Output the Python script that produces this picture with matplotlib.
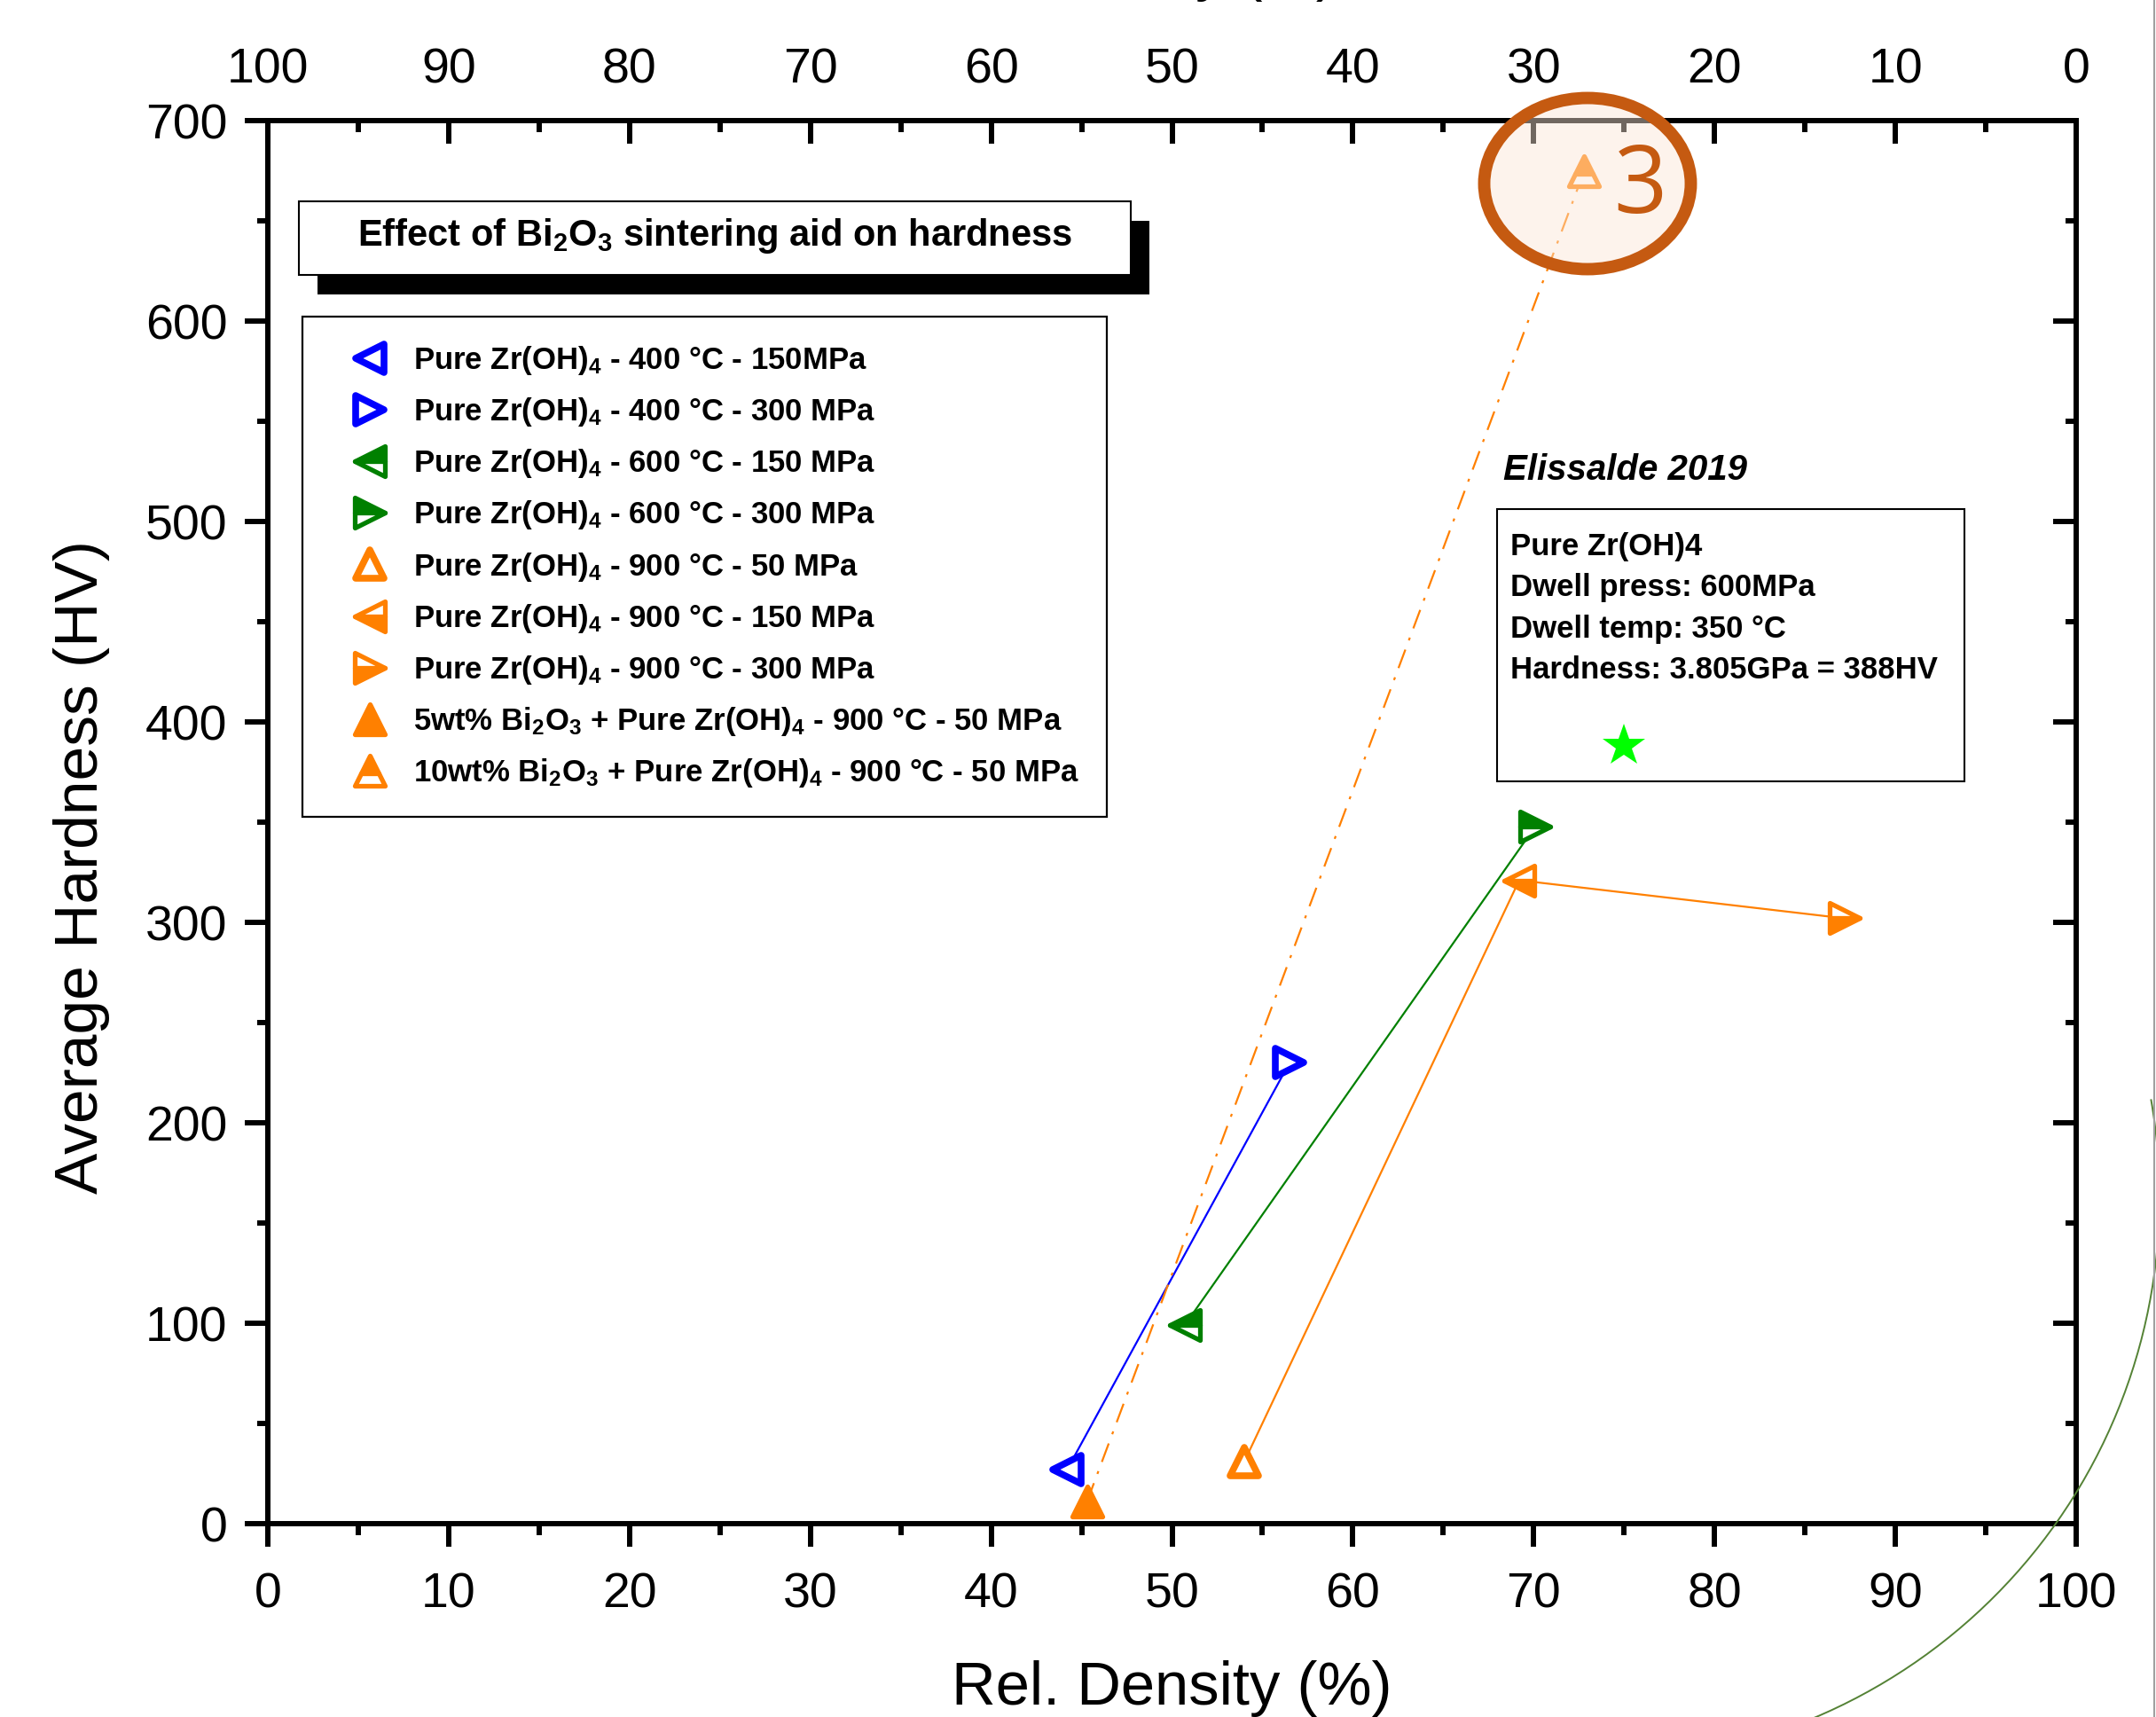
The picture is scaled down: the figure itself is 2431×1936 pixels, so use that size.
import numpy as np
import matplotlib.pyplot as plt
from matplotlib.lines import Line2D
from matplotlib.markers import MarkerStyle
from matplotlib.patches import Rectangle, Ellipse, Arc

plt.rcParams['font.family'] = ['Liberation Sans', 'DejaVu Sans']
plt.rcParams['mathtext.default'] = 'regular'

# Rel. density (%) vs average hardness (HV)
blue_density = [44.2, 56.5]          # 400 °C: 150 MPa, 300 MPa
blue_hardness = [27, 230]
green_density = [50.7, 70.1]         # 600 °C: 150 MPa, 300 MPa
green_hardness = [99, 348]
orange_density = [54.0, 69.2, 87.2]  # 900 °C: 50, 150, 300 MPa
orange_hardness = [31, 321, 302]
bi2o3_density = [45.3, 72.8]         # 5wt%, 10wt% Bi2O3
bi2o3_hardness = [11, 675]
elissalde_density = [75.0]
elissalde_hardness = [388]

labels = [
    'Pure Zr(OH)$_4$ - 400 °C - 150MPa',
    'Pure Zr(OH)$_4$ - 400 °C - 300 MPa',
    'Pure Zr(OH)$_4$ - 600 °C - 150 MPa',
    'Pure Zr(OH)$_4$ - 600 °C - 300 MPa',
    'Pure Zr(OH)$_4$ - 900 °C - 50 MPa',
    'Pure Zr(OH)$_4$ - 900 °C - 150 MPa',
    'Pure Zr(OH)$_4$ - 900 °C - 300 MPa',
    '5wt% Bi$_2$O$_3$ + Pure Zr(OH)$_4$ - 900 °C - 50 MPa',
    '10wt% Bi$_2$O$_3$ + Pure Zr(OH)$_4$ - 900 °C - 50 MPa',
]
info_lines = ['Pure Zr(OH)4', 'Dwell press: 600MPa', 'Dwell temp: 350 °C',
              'Hardness: 3.805GPa = 388HV']

blue, green, orange = '#0000ff', '#008000', '#ff8000'

fig = plt.figure(figsize=(24.31, 19.36), dpi=100)
ax = fig.add_axes([0.12423, 0.11260, 0.83875, 0.81715])
ax.set_xlim(0, 100)
ax.set_ylim(0, 700)

# connecting lines
ax.plot(blue_density, blue_hardness, color=blue, lw=1.6, zorder=2)
ax.plot(green_density, green_hardness, color=green, lw=1.6, zorder=2)
ax.plot(orange_density, orange_hardness, color=orange, lw=1.6, zorder=2)
ax.plot(bi2o3_density, bi2o3_hardness, color=orange, lw=1.6,
        ls=(0, (10, 5, 1.5, 5)), zorder=2)


def draw_point(x, y, marker, color, fill, label):
    kw = dict(ms=25, mew=3.8, mec=color, ls='none', zorder=4)
    if fill == 'open':
        kw.update(mfc='white', mew=5.5, ms=23)
        fs = 'full'
    elif fill == 'full':
        kw.update(mfc=color)
        fs = 'full'
    else:
        kw.update(mfc=color, markerfacecoloralt='white')
        fs = fill
    m = MarkerStyle(marker, fillstyle=fs, joinstyle='round')
    return ax.plot([x], [y], marker=m, label=label, **kw)[0]


handles = [
    draw_point(blue_density[0], blue_hardness[0], '<', blue, 'open', labels[0]),
    draw_point(blue_density[1], blue_hardness[1], '>', blue, 'open', labels[1]),
    draw_point(green_density[0], green_hardness[0], '<', green, 'top', labels[2]),
    draw_point(green_density[1], green_hardness[1], '>', green, 'top', labels[3]),
    draw_point(orange_density[0], orange_hardness[0], '^', orange, 'open', labels[4]),
    draw_point(orange_density[1], orange_hardness[1], '<', orange, 'bottom', labels[5]),
    draw_point(orange_density[2], orange_hardness[2], '>', orange, 'bottom', labels[6]),
    draw_point(bi2o3_density[0], bi2o3_hardness[0], '^', orange, 'full', labels[7]),
    draw_point(bi2o3_density[1], bi2o3_hardness[1], '^', orange, 'top', labels[8]),
]

ax.plot(elissalde_density, elissalde_hardness, marker='*', color='#00ff00',
        ms=36, mew=0, ls='none', zorder=4)

# axes styling
for sp in ax.spines.values():
    sp.set_linewidth(4.3)
ax.set_xticks(np.arange(0, 101, 10))
ax.set_xticks(np.arange(0, 101, 5), minor=True)
ax.set_yticks(np.arange(0, 701, 100))
ax.set_yticks(np.arange(0, 701, 50), minor=True)
ax.tick_params(which='major', direction='out', length=19, width=4.3, labelsize=40)
ax.tick_params(which='minor', direction='out', length=9, width=4.3)
ax.tick_params(axis='x', pad=20)
ax.tick_params(axis='y', pad=14)

ax_r = ax.twinx()
ax_r.set_ylim(0, 700)
ax_r.set_yticks(np.arange(0, 701, 100))
ax_r.set_yticks(np.arange(0, 701, 50), minor=True)
ax_r.tick_params(which='major', direction='in', length=19, width=4.3, labelright=False)
ax_r.tick_params(which='minor', direction='in', length=9, width=4.3)

ax_t = ax.twiny()
ax_t.set_xlim(100, 0)
ax_t.set_xticks(np.arange(0, 101, 10))
ax_t.set_xticks(np.arange(0, 101, 5), minor=True)
ax_t.tick_params(which='major', direction='in', length=19, width=4.3,
                 labelsize=40, pad=22)
ax_t.tick_params(which='minor', direction='in', length=9, width=4.3)
for a in (ax_r, ax_t):
    for sp in a.spines.values():
        sp.set_visible(False)

ax.set_xlabel('Rel. Density (%)', fontsize=49.5)
ax.xaxis.label.set_va('baseline')
ax.xaxis.set_label_coords(0.5, -0.129)
ax.set_ylabel('Average Hardness (HV)', fontsize=50)
ax.yaxis.label.set_va('baseline')
ax.yaxis.set_label_coords(-0.094, 0.468)
fig.text(0.5434, 1 + 12 / 1936, 'Porosity (%)', fontsize=49,
         ha='center', va='baseline')

# legend
leg = ax.legend(handles=handles, loc='upper left', bbox_to_anchor=(0.0189, 0.8606),
                bbox_transform=ax.transAxes, borderaxespad=0, fancybox=False,
                edgecolor='black', framealpha=1, numpoints=1,
                prop={'weight': 'bold', 'size': 25},
                borderpad=0.9, handlelength=2.6, handletextpad=0.1,
                labelspacing=0.61)
leg.get_frame().set_linewidth(1.6)

# title box with shadow
bx0, by0, bw, bh = 0.01717, 0.8900, 0.4600, 0.0525
ax.add_patch(Rectangle((bx0 + 0.0103, by0 - 0.0139), bw, bh, transform=ax.transAxes,
                       facecolor='black', edgecolor='none', zorder=5, clip_on=False))
ax.add_patch(Rectangle((bx0, by0), bw, bh, transform=ax.transAxes,
                       facecolor='white', edgecolor='black', lw=1.5, zorder=6,
                       clip_on=False))
ax.text(0.2474, 0.9109, 'Effect of Bi$_2$O$_3$ sintering aid on hardness',
        transform=ax.transAxes, fontsize=30, fontweight='bold',
        ha='center', va='baseline', zorder=7)

# Elissalde reference
ax.text(0.683, 0.744, 'Elissalde 2019', transform=ax.transAxes, fontsize=29,
        fontweight='bold', fontstyle='italic', va='baseline')
ax.add_patch(Rectangle((0.6797, 0.5291), 0.2585, 0.1940, transform=ax.transAxes,
                       facecolor='none', edgecolor='black', lw=1.5, zorder=3))
for i, line in enumerate(info_lines):
    ax.text(0.6871, 0.6903 - i * 0.0294, line, transform=ax.transAxes,
            fontsize=25, fontweight='bold', va='baseline')

# highlight ellipse with number
fig.add_artist(Ellipse((17.90, 17.29), 2.33, 1.93, transform=fig.dpi_scale_trans,
                       facecolor=(251 / 255, 229 / 255, 214 / 255, 0.45),
                       edgecolor='#c55a11', lw=10, zorder=5))
fig.text(0.7606, 0.876, '3', color='#c55a11', fontsize=76,
         family=['Open Sans', 'DejaVu Sans'], ha='center', va='baseline', zorder=6)

# slide leftovers at the right edge
fig.add_artist(Arc((17.98, 5.86), 12.74, 12.74, theta1=-80, theta2=10,
                   transform=fig.dpi_scale_trans, color='#548235', lw=1.4))
fig.add_artist(Line2D([0.9992, 0.9992], [0, 1], transform=fig.transFigure,
                      color='#a0a0a0', lw=1.5))

fig.savefig('out.png', dpi=100)
